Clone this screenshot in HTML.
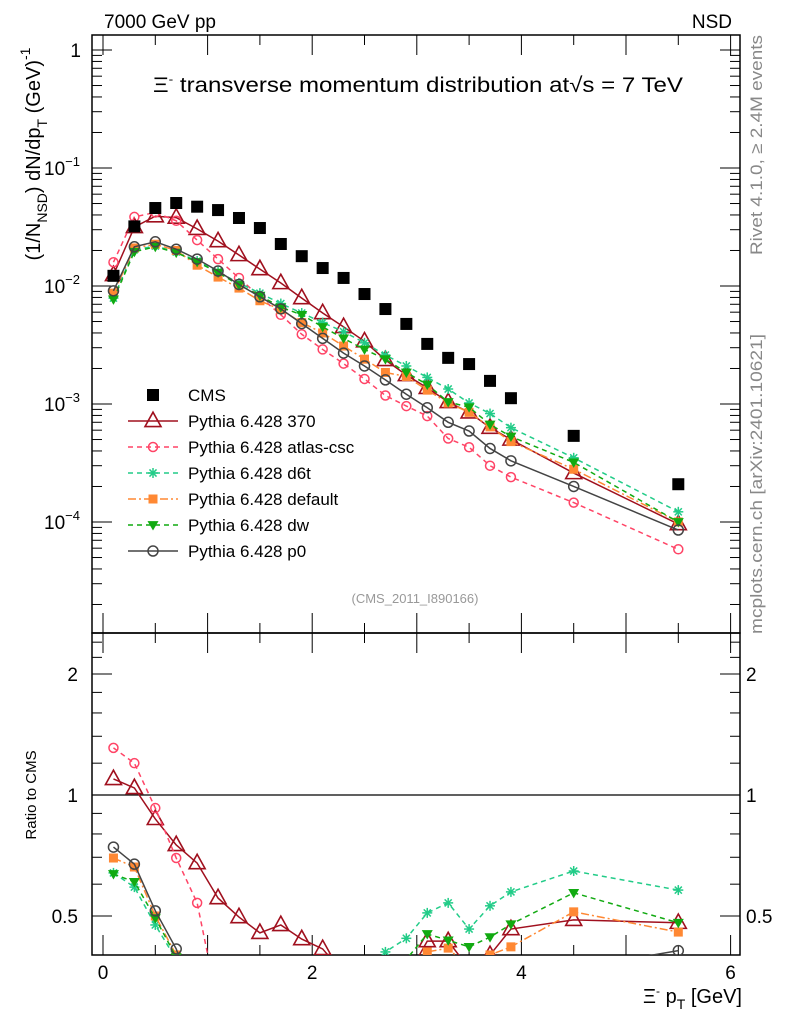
<!DOCTYPE html>
<html><head><meta charset="utf-8"><style>
html,body{margin:0;padding:0;background:#fff;}
svg{display:block;font-family:"Liberation Sans",sans-serif;}
</style></head><body>
<svg id="chart" width="786" height="1024" viewBox="0 0 786 1024" xmlns="http://www.w3.org/2000/svg">
<defs>
<clipPath id="clipTop"><rect x="92" y="35" width="648" height="598"/></clipPath>
<clipPath id="clipBot"><rect x="92" y="633" width="648" height="322"/></clipPath>
</defs>
<text x="104" y="28" font-size="19">7000 GeV pp</text>
<text x="732" y="28" font-size="19" text-anchor="end">NSD</text>
<text x="153" y="92" font-size="21" textLength="530" lengthAdjust="spacingAndGlyphs">Ξ<tspan dy="-9" font-size="12">-</tspan><tspan dy="9"> transverse momentum distribution at</tspan><tspan>√s = 7 TeV</tspan></text>
<text transform="translate(40,154) rotate(-90)" font-size="20" text-anchor="middle">(1/N<tspan dy="7" font-size="14">NSD</tspan><tspan dy="-7">) dN/dp</tspan><tspan dy="7" font-size="14">T</tspan><tspan dy="-7"> (GeV)</tspan><tspan dy="-10" font-size="14">-1</tspan></text>
<text transform="translate(762,35) rotate(-90)" font-size="17" fill="#888" text-anchor="end" textLength="220" lengthAdjust="spacingAndGlyphs">Rivet 4.1.0, ≥ 2.4M events</text>
<text transform="translate(762,634) rotate(-90)" font-size="17" fill="#888" textLength="300" lengthAdjust="spacingAndGlyphs">mcplots.cern.ch [arXiv:2401.10621]</text>
<text x="415" y="603" font-size="13" fill="#999" text-anchor="middle">(CMS_2011_I890166)</text>
<text transform="translate(36,795) rotate(-90)" font-size="15" text-anchor="middle">Ratio to CMS</text>
<text x="742" y="1003" font-size="20" text-anchor="end">Ξ<tspan dy="-8" font-size="12">-</tspan><tspan dy="8"> p</tspan><tspan dy="6" font-size="14">T</tspan><tspan dy="-6"> [GeV]</tspan></text>
<g id="axes"></g>
<g id="topMarks" clip-path="url(#clipTop)"></g>
<g id="botMarks" clip-path="url(#clipBot)"></g>
<g id="legend"></g>
</svg>
<script>
const pt = [0.1,0.3,0.5,0.7,0.9,1.1,1.3,1.5,1.7,1.9,2.1,2.3,2.5,2.7,2.9,3.1,3.3,3.5,3.7,3.9,4.5,5.5];
const cms = [0.0122,0.032,0.0458,0.0505,0.047,0.044,0.0377,0.031,0.0227,0.0179,0.0142,0.0117,0.00855,0.00638,0.00477,0.00323,0.00246,0.00218,0.00157,0.00112,0.000537,0.000209];
const p370 = [0.0124,0.0316,0.039,0.038,0.0305,0.024,0.0183,0.0139,0.0106,0.0079,0.0059,0.0045,0.0034,0.00236,0.00176,0.00137,0.00104,0.00085,0.00063,0.0005,0.00026,0.000096];
const atlas = [0.0159,0.0385,0.042,0.0357,0.0245,0.0169,0.0117,0.0081,0.0057,0.0039,0.0029,0.0022,0.00163,0.00118,0.00096,0.00079,0.00051,0.00043,0.0003,0.00024,0.000146,0.0000587];
const d6t = [0.0079,0.0203,0.0218,0.0194,0.0163,0.0132,0.0106,0.0087,0.0071,0.0059,0.0049,0.0041,0.0033,0.0026,0.0021,0.00168,0.00134,0.00102,0.00083,0.00063,0.00035,0.000122];
const dflt = [0.0087,0.021,0.0226,0.02,0.015,0.0119,0.0096,0.0075,0.0063,0.0049,0.004,0.0031,0.0024,0.00185,0.00171,0.00131,0.00102,0.00085,0.00064,0.00048,0.00028,0.0001];
const dw = [0.0077,0.0195,0.0215,0.0192,0.016,0.013,0.0102,0.0083,0.0066,0.0057,0.0045,0.0036,0.0029,0.0024,0.00185,0.00146,0.00104,0.00094,0.00067,0.00053,0.00032,0.0001];
const p0 = [0.0091,0.0215,0.0237,0.0205,0.0169,0.0134,0.0103,0.0081,0.0064,0.0048,0.0036,0.0027,0.0021,0.0016,0.00121,0.00093,0.0007,0.00059,0.00042,0.00033,0.0002,0.0000855];
const r370 = [1.096,1.041,0.872,0.751,0.677,0.554,0.497,0.454,0.475,0.438,0.414,0.36,0.33,0.32,0.35,0.433,0.433,0.37,0.40,0.464,0.489,0.481];
const ratlas = [1.31,1.2,0.928,0.697,0.539,0.3,0.3,0.3,0.3,0.3,0.3,0.3,0.3,0.3,0.3,0.3,0.3,0.3,0.3,0.3,0.3,0.3];
const rd6t = [0.64,0.59,0.475,0.39,0.3,0.3,0.3,0.3,0.3,0.3,0.3,0.3,0.35,0.407,0.44,0.509,0.539,0.464,0.53,0.574,0.647,0.58];
const rdflt = [0.697,0.662,0.5,0.4,0.3,0.3,0.3,0.3,0.3,0.3,0.3,0.3,0.3,0.3,0.35,0.407,0.416,0.37,0.4,0.419,0.512,0.456];
const rdw = [0.636,0.608,0.494,0.395,0.3,0.3,0.3,0.3,0.3,0.3,0.3,0.3,0.3,0.33,0.39,0.451,0.435,0.419,0.443,0.477,0.571,0.481];
const rp0 = [0.742,0.673,0.515,0.414,0.3,0.3,0.3,0.3,0.3,0.3,0.3,0.3,0.3,0.3,0.3,0.3,0.3,0.3,0.3,0.3,0.37,0.41];
const xTicks = [0,2,4,6];
const ratioTicks = [0.5,1,2];

const NS="http://www.w3.org/2000/svg";
const X0=92,X1=740,T0=35,T1=633,B1=955;
const xs = v => 103 + v*104.6;
const ys = v => 50 - Math.log10(v)*118;
const yr = r => 795 - Math.log2(r)*121;
function mk(tag, attrs, parent){const e=document.createElementNS(NS,tag);for(const k in attrs)e.setAttribute(k,attrs[k]);parent.appendChild(e);return e;}
const axes=document.getElementById('axes');
const topG=document.getElementById('topMarks');
const botG=document.getElementById('botMarks');
const legG=document.getElementById('legend');

let f=mk('rect',{x:X0,y:T0,width:X1-X0,height:T1-T0,fill:'none',stroke:'#000','stroke-width':1.5},axes);


f=mk('rect',{x:X0,y:T1,width:X1-X0,height:B1-T1,fill:'none',stroke:'#000','stroke-width':1.5},axes);


for(let d=-5;d<=0;d++){
  for(let m=1;m<=9;m++){
    const y=ys(m*Math.pow(10,d));
    if(y<T0||y>T1)continue;
    const L=m===1?20:10;
    mk('line',{x1:X0,x2:X0+L,y1:y,y2:y,stroke:'#000','stroke-width':1},axes);
    mk('line',{x1:X1,x2:X1-L,y1:y,y2:y,stroke:'#000','stroke-width':1},axes);
  }
}
const ylabs=[[0,'1',''],[-1,'10','−1'],[-2,'10','−2'],[-3,'10','−3'],[-4,'10','−4']];
ylabs.forEach(([d,b,e])=>{
  const t=mk('text',{x:e?62:81,y:ys(Math.pow(10,d))+7,'font-size':19,'text-anchor':e?'middle':'end'},axes);
  
  
  t.textContent=b;
  if(e){const s=mk('tspan',{dy:-9,'font-size':13},t);s.textContent=e;}
});
for(let v=0;v<=6.01;v+=0.5){
  const x=xs(v);if(x<X0||x>X1)continue;
  const L=(Math.abs(v-Math.round(v))<1e-6)?20:10;
  mk('line',{x1:x,x2:x,y1:T0,y2:T0+L,stroke:'#000'},axes);
  mk('line',{x1:x,x2:x,y1:T1,y2:T1-L,stroke:'#000'},axes);
  mk('line',{x1:x,x2:x,y1:T1,y2:T1+L,stroke:'#000'},axes);
  mk('line',{x1:x,x2:x,y1:B1,y2:B1-L,stroke:'#000'},axes);
}
xTicks.forEach(v=>{
  const t=mk('text',{x:xs(v),y:979,'font-size':19,'text-anchor':'middle'},axes);
  
  
  t.textContent=v;
});
[0.5,0.6,0.7,0.8,0.9,1,1.2,1.4,1.6,1.8,2,2.2,2.4].forEach(r=>{
  const y=yr(r);const L=ratioTicks.includes(r)?20:10;
  mk('line',{x1:X0,x2:X0+L,y1:y,y2:y,stroke:'#000'},axes);
  mk('line',{x1:X1,x2:X1-L,y1:y,y2:y,stroke:'#000'},axes);
});
ratioTicks.forEach(r=>{
  let t=mk('text',{x:78,y:yr(r)+7,'font-size':19,'text-anchor':'end'},axes);
  
  
  t.textContent=r;
  t=mk('text',{x:746,y:yr(r)+7,'font-size':19},axes);
  
  
  t.textContent=r;
});
let ref=mk('line',{x1:X0,x2:X1,y1:yr(1),y2:yr(1),stroke:'#000','stroke-width':1.3},axes);



function marker(g,type,x,y,c,s){
  if(type==='sq') return mk('rect',{x:x-s,y:y-s,width:2*s,height:2*s,fill:c},g);
  if(type==='tri') return mk('polygon',{points:`${x},${y-s*1.1} ${x-s},${y+s*0.7} ${x+s},${y+s*0.7}`,fill:'#fff','fill-opacity':0,stroke:c,'stroke-width':1.6},g);
  if(type==='circ') return mk('circle',{cx:x,cy:y,r:s,fill:'none',stroke:c,'stroke-width':1.5},g);
  if(type==='dtri') return mk('polygon',{points:`${x-s},${y-s*0.7} ${x+s},${y-s*0.7} ${x},${y+s*1.0}`,fill:c},g);
  if(type==='star'){const gg=mk('g',{stroke:c,'stroke-width':1.5},g);
    for(let a=0;a<4;a++){const an=a*Math.PI/4;mk('line',{x1:x-s*Math.cos(an),y1:y-s*Math.sin(an),x2:x+s*Math.cos(an),y2:y+s*Math.sin(an)},gg);}return gg;}
}
const series=[
 {name:'370',top:p370,rat:r370,c:'#a0101e',dash:'',m:'tri',s:8},
 {name:'atlas-csc',top:atlas,rat:ratlas,c:'#ff4466',dash:'5,4',m:'circ',s:4.5},
 {name:'d6t',top:d6t,rat:rd6t,c:'#22cc88',dash:'5,4',m:'star',s:5},
 {name:'default',top:dflt,rat:rdflt,c:'#ff8833',dash:'8,3,2,3',m:'sq',s:4.5},
 {name:'dw',top:dw,rat:rdw,c:'#11aa11',dash:'5,4',m:'dtri',s:5.5},
 {name:'p0',top:p0,rat:rp0,c:'#444',dash:'',m:'circ',s:5},
];
series.forEach(se=>{
  [[topG,se.top,ys],[botG,se.rat,yr]].forEach(([g,arr,yf])=>{
    const pts=pt.map((p,i)=>`${xs(p)},${yf(arr[i])}`).join(' ');
    const pl=mk('polyline',{points:pts,fill:'none',stroke:se.c,'stroke-width':1.5,'stroke-dasharray':se.dash},g);
    
    
    pt.forEach((p,i)=>{
      const m=marker(g,se.m,xs(p),yf(arr[i]),se.c,se.s);
      
      
    });
  });
});
pt.forEach((p,i)=>{
  const m=marker(topG,'sq',xs(p),ys(cms[i]),'#000',6);
  
  
});
const lrows=[{label:'CMS',m:'sq',c:'#000',s:6,dash:null}].concat(series.map(se=>({label:'Pythia 6.428 '+se.name,m:se.m,c:se.c,s:se.m==='tri'?8:se.s,dash:se.dash})));
lrows.forEach((r,i)=>{
  const y=395+i*26;
  const g=mk('g',{},legG);
  
  
  if(r.dash!==null) mk('line',{x1:128,x2:178,y1:y,y2:y,stroke:r.c,'stroke-width':1.5,'stroke-dasharray':r.dash},g);
  marker(g,r.m,153,y,r.c,r.s);
  const t=mk('text',{x:188,y:y+6,'font-size':17},g);
  t.textContent=r.label;
});
</script>
</body></html>
